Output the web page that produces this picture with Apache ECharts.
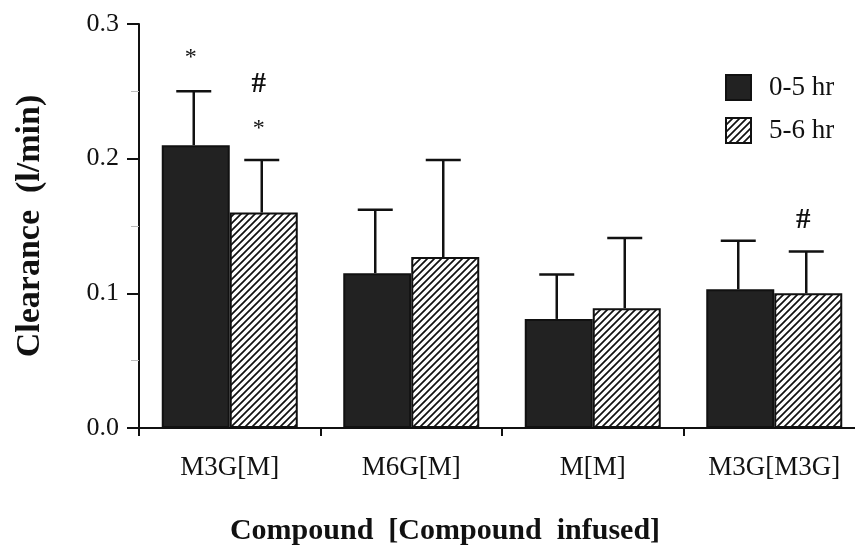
<!DOCTYPE html>
<html>
<head>
<meta charset="utf-8">
<script src="https://cdn.jsdelivr.net/npm/echarts@6/dist/echarts.min.js"></script>
<style>
html,body{margin:0;padding:0;background:#fff;overflow:hidden;width:855px;height:546px;}
#chart{width:880px;height:546px;}
</style>
</head>
<body>
<div id="chart"></div>
<script>
// ---- data ----
const categories = ['M3G[M]', 'M6G[M]', 'M[M]', 'M3G[M3G]'];
const seriesNames = ['0-5 hr', '5-6 hr'];
const mean05 = [0.210, 0.115, 0.081, 0.103];
const err05  = [0.040, 0.047, 0.033, 0.036];
const mean56 = [0.160, 0.127, 0.089, 0.100];
const err56  = [0.039, 0.072, 0.052, 0.031];
const yMin = 0, yMax = 0.3, yInterval = 0.1;
// significance marks: category index, series index, value position, text
const markCat   = [0, 0, 0, 3];
const markGroup = [0, 1, 1, 1];
const markValue = [0.275, 0.255, 0.222, 0.154];
const markText  = ['*', '#', '*', '#'];
const xTitle = 'Compound  [Compound  infused]';
const yTitle = 'Clearance  (l/min)';

// ---- hatch pattern ----
const pat = document.createElement('canvas');
pat.width = 7; pat.height = 7;
const pc = pat.getContext('2d');
pc.fillStyle = '#fff'; pc.fillRect(0, 0, 7, 7);
pc.strokeStyle = '#111'; pc.lineWidth = 1.7;
pc.beginPath();
pc.moveTo(-1, 8); pc.lineTo(8, -1);
pc.moveTo(-2, 2); pc.lineTo(2, -2);
pc.moveTo(5, 9); pc.lineTo(9, 5);
pc.stroke();

const BAR_W = 68;
const serif = '"Liberation Serif", "Times New Roman", serif';

const errData = [];
for (let i = 0; i < categories.length; i++) {
  errData.push([i, mean05[i], mean05[i] + err05[i], 0]);
  errData.push([i, mean56[i], mean56[i] + err56[i], 1]);
}
const markData = markCat.map((c, i) => [c, markValue[i], markGroup[i], i]);

const chart = echarts.init(document.getElementById('chart'), null, {renderer: 'canvas'});
chart.setOption({
  backgroundColor: '#fff',
  animation: false,
  grid: {left: 139, top: 24, width: 726, height: 404, containLabel: false},
  legend: {
    data: seriesNames,
    orient: 'vertical',
    left: 720, top: 69,
    itemWidth: 25, itemHeight: 25, itemGap: 16,
    icon: 'rect',
    textStyle: {fontFamily: serif, fontSize: 27, color: '#111', padding: [0, 0, 0, 13]}
  },
  xAxis: {
    type: 'category',
    data: categories,
    axisLine: {lineStyle: {color: '#111', width: 2}},
    axisTick: {show: true, length: 8, lineStyle: {color: '#111', width: 2}},
    axisLabel: {fontFamily: serif, fontSize: 27, color: '#111', margin: 26}
  },
  yAxis: {
    type: 'value',
    min: yMin, max: yMax, interval: yInterval,
    name: yTitle,
    nameLocation: 'middle',
    nameGap: 92,
    nameTextStyle: {fontFamily: serif, fontSize: 34, fontWeight: 'bold', color: '#111'},
    axisLine: {show: true, lineStyle: {color: '#111', width: 2}},
    axisTick: {show: true, length: 12, lineStyle: {color: '#111', width: 2}},
    minorTick: {show: true, splitNumber: 2, length: 8, lineStyle: {color: '#bbb', width: 1}},
    splitLine: {show: false},
    axisLabel: {fontFamily: serif, fontSize: 26, color: '#111', margin: 20,
      formatter: v => v.toFixed(1)}
  },
  graphic: [{
    type: 'text', x: 445, y: 531,
    style: {text: xTitle, font: 'bold 30px ' + serif, fill: '#111',
      textAlign: 'center', textVerticalAlign: 'middle'}
  }],
  series: [
    {
      name: seriesNames[0], type: 'bar', data: mean05,
      barWidth: BAR_W, barGap: '0%',
      itemStyle: {color: '#222', borderColor: '#111', borderWidth: 2}
    },
    {
      name: seriesNames[1], type: 'bar', data: mean56,
      barWidth: BAR_W, barGap: '0%',
      itemStyle: {color: {image: pat, repeat: 'repeat'}, borderColor: '#111', borderWidth: 2}
    },
    {
      type: 'custom', data: errData, z: 5,
      renderItem: function (params, api) {
        const cat = api.value(0), g = api.value(3);
        const p0 = api.coord([cat, api.value(1)]);
        const p1 = api.coord([cat, api.value(2)]);
        const x = p0[0] + (g === 0 ? -1 : 1) * BAR_W / 2 - 2;
        const st = {stroke: '#111', lineWidth: 2.5};
        return {type: 'group', children: [
          {type: 'line', shape: {x1: x, y1: p0[1], x2: x, y2: p1[1]}, style: st},
          {type: 'line', shape: {x1: x - 17.5, y1: p1[1], x2: x + 17.5, y2: p1[1]}, style: st}
        ]};
      }
    },
    {
      type: 'custom', data: markData, z: 6,
      renderItem: function (params, api) {
        const cat = api.value(0), g = api.value(2), idx = api.value(3);
        const p = api.coord([cat, api.value(1)]);
        const x = p[0] + (g === 0 ? -1 : 1) * BAR_W / 2 - 5;
        const t = markText[idx];
        return {type: 'text', x: x, y: p[1],
          style: {text: t, font: (t === '#' ? 'bold 29px ' : '24px ') + serif, fill: '#111',
            textAlign: 'center', textVerticalAlign: 'middle'}};
      }
    }
  ]
});
</script>
</body>
</html>
